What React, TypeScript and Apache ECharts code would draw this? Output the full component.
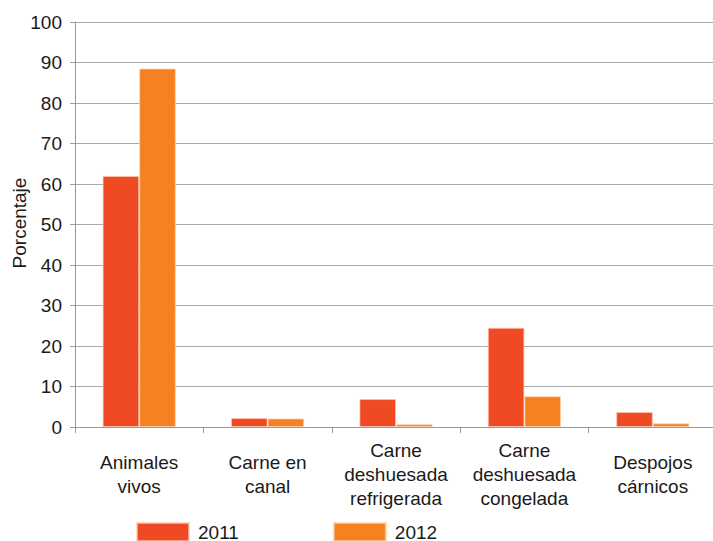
import React, { useEffect, useRef } from "react";
import * as echarts from "echarts";

const categories = [
  "Animales\nvivos",
  "Carne en\ncanal",
  "Carne\ndeshuesada\nrefrigerada",
  "Carne\ndeshuesada\ncongelada",
  "Despojos\ncárnicos",
];
const seriesNames = ["2011", "2012"];
const values2011 = [62.0, 2.2, 6.9, 24.5, 3.7];
const values2012 = [88.5, 2.1, 0.7, 7.6, 0.9];
const yTicks = { min: 0, max: 100, interval: 10 };
const yAxisName = "Porcentaje";

const colors = ["#EF4A24", "#F58120"];
const FONT = "Liberation Sans, Arial, sans-serif";

export default function App() {
  const ref = useRef<HTMLDivElement>(null);
  useEffect(() => {
    if (!ref.current) return;
    const chart = echarts.init(ref.current, undefined, { renderer: "svg" });
    chart.setOption({
      animation: false,
      textStyle: { fontFamily: FONT },
      legend: {
        bottom: -6,
        left: 131,
        itemWidth: 52,
        itemHeight: 18,
        itemGap: 94,
        icon: "rect",
        textStyle: { fontSize: 19, color: "#1a1a1a", fontFamily: FONT, padding: [0, 0, 0, 4] },
        data: seriesNames,
      },
      graphic: [
        {
          type: "text",
          x: 19,
          y: 223,
          rotation: Math.PI / 2,
          style: {
            text: yAxisName,
            align: "center",
            verticalAlign: "middle",
            fontSize: 19,
            fontFamily: FONT,
            fill: "#1a1a1a",
          },
        },
      ],
      grid: {
        left: 75,
        right: -4,
        top: 22,
        bottom: 114,
        containLabel: false,
        outerBoundsMode: "none",
      },
      xAxis: {
        type: "category",
        data: categories,
        axisLine: { lineStyle: { color: "#999", width: 1 } },
        axisTick: { show: true, length: 6, lineStyle: { color: "#999" } },
        axisLabel: {
          interval: 0,
          fontSize: 19,
          lineHeight: 24,
          color: "#1a1a1a",
          fontFamily: FONT,
          verticalAlign: "middle",
          margin: 47,
        },
      },
      yAxis: {
        type: "value",
        min: yTicks.min,
        max: yTicks.max,
        interval: yTicks.interval,
        axisLine: { show: true, lineStyle: { color: "#999", width: 1 } },
        axisTick: { show: true, length: 5, lineStyle: { color: "#999" } },
        axisLabel: { fontSize: 19, color: "#1a1a1a", fontFamily: FONT, margin: 13 },
        splitLine: { show: true, lineStyle: { color: "#aaa", width: 1 } },
      },
      series: [
        {
          name: seriesNames[0],
          type: "bar",
          data: values2011,
          barGap: "0%",
          barCategoryGap: "43%",
          itemStyle: { color: colors[0], borderColor: "rgba(255,200,180,0.7)", borderWidth: 1 },
        },
        {
          name: seriesNames[1],
          type: "bar",
          data: values2012,
          barGap: "0%",
          barCategoryGap: "43%",
          itemStyle: { color: colors[1], borderColor: "rgba(255,210,170,0.7)", borderWidth: 1 },
        },
      ],
    });
    return () => chart.dispose();
  }, []);
  return (
    <div
      ref={ref}
      style={{ position: "fixed", left: 0, top: 0, width: 713, height: 541, background: "#fff" }}
    />
  );
}
